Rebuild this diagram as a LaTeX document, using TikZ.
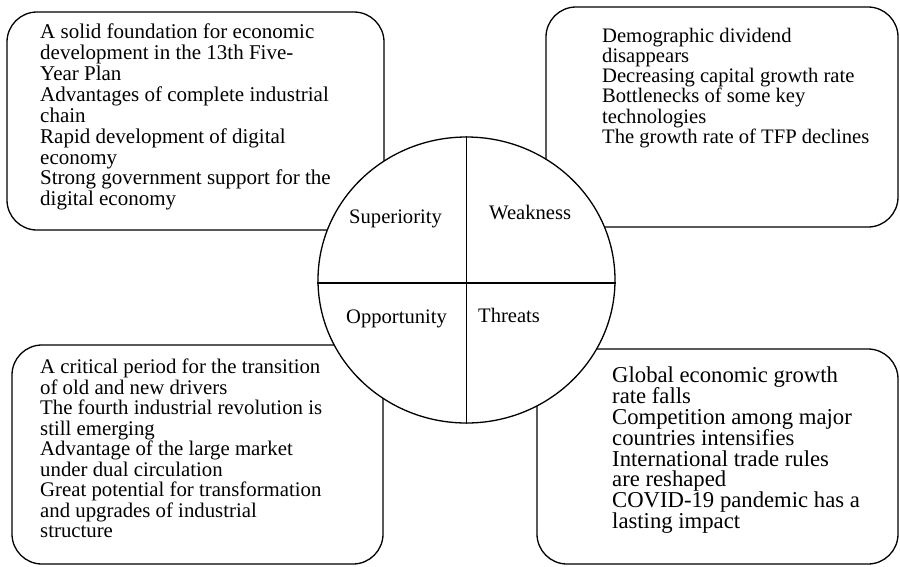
\documentclass[tikz,border=0pt]{standalone}
\usepackage{fontspec}
\setmainfont{Liberation Serif}
\usetikzlibrary{shapes.geometric}

\tikzset{
  box/.style={draw, line width=1.3pt, rounded corners=30pt, fill=white},
  boxtext/.style={anchor=north west, inner sep=0pt, align=left},
  part/.style={anchor=base west, inner sep=0pt,
    font=\fontsize{20.6}{20.8}\selectfont},
}

\begin{document}
\begin{tikzpicture}[x=1pt,y=-1pt]
\useasboundingbox (0,0) rectangle (900,566);
% four boxes
\draw[box] (7,12) rectangle (384,230);
\draw[box] (546,7) rectangle (898,227);
\draw[box] (12,345) rectangle (383,564);
\draw[box] (537,349) rectangle (898,564);
\node[boxtext, font=\fontsize{21}{20.9}\selectfont] (strong) at (40,23.7)
  {A solid foundation for economic\\
  development in the 13th Five-\\Year Plan\\
  Advantages of complete industrial\\chain\\
  Rapid development of digital\\economy\\
  Strong government support for the\\digital economy};
\node[boxtext, font=\fontsize{20.6}{20.2}\selectfont] (weak) at (602,27.9)
  {Demographic dividend\\disappears\\
  Decreasing capital growth rate\\
  Bottlenecks of some key\\technologies\\
  The growth rate of TFP declines};
\node[boxtext, font=\fontsize{20.8}{20.5}\selectfont] (chance) at (40,358.8)
  {A critical period for the transition\\
  of old and new drivers\\
  The fourth industrial revolution is\\still emerging\\
  Advantage of the large market\\under dual circulation\\
  Great potential for transformation\\and upgrades of industrial\\structure};
\node[boxtext, font=\fontsize{22.7}{20.9}\selectfont] (risk) at (612,366.5)
  {Global economic growth\\rate falls\\
  Competition among major\\countries intensifies\\
  International trade rules\\are reshaped\\
  COVID-19 pandemic has a\\lasting impact};
% circle in the middle
\node[draw, ellipse, line width=1.3pt, fill=white, inner sep=0pt,
  minimum width=297pt, minimum height=286pt] (swot) at (466.5,280) {};
\draw[line width=1.3pt] (swot.north) -- (swot.south);
\draw[line width=1.3pt] ([yshift=-3pt]swot.west) -- ([yshift=-3pt]swot.east);
\node[part] (sup) at (349,223) {Superiority};
\node[part] (wea) at (489,219) {Weakness};
\node[part] (opp) at (346,323) {Opportunity};
\node[part] (thr) at (478,322) {Threats};
\end{tikzpicture}
\end{document}
